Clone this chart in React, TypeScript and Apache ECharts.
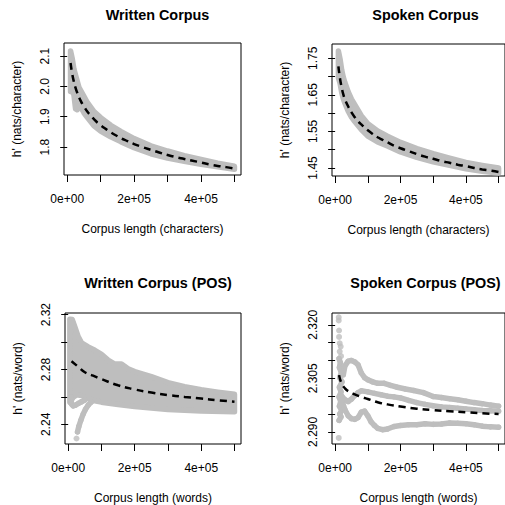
import React, { useEffect, useRef } from "react";
import * as echarts from "echarts";

// ---------- shared axis data ----------
const xTicks = [0, 100000, 200000, 300000, 400000, 500000];
const xLabelValues = [0, 200000, 400000];
const xLabelTexts = ["0e+00", "2e+05", "4e+05"];

const titles = ["Written Corpus", "Spoken Corpus", "Written Corpus (POS)", "Spoken Corpus (POS)"];
const xNames = ["Corpus length (characters)", "Corpus length (characters)", "Corpus length (words)", "Corpus length (words)"];
const yNames = ["h' (nats/character)", "h' (nats/character)", "h' (nats/word)", "h' (nats/word)"];

const yTicks1 = [1.8, 1.9, 2.0, 2.1];
const yLabels1 = [1.8, 1.9, 2.0, 2.1];
const yTicks2 = [1.45, 1.5, 1.55, 1.6, 1.65, 1.7, 1.75];
const yLabels2 = [1.45, 1.55, 1.65, 1.75];
const yTicks3 = [2.24, 2.26, 2.28, 2.3, 2.32];
const yLabels3 = [2.24, 2.28, 2.32];
const yTicks4 = [2.29, 2.295, 2.3, 2.305, 2.31, 2.315, 2.32];
const yLabels4 = [2.29, 2.305, 2.32];

// ---------- panel 1: written corpus (characters) ----------
const band1X = [10000, 15000, 20000, 25000, 30000, 35000, 40000, 50000, 60000, 80000, 100000, 130000, 160000, 200000, 250000, 300000, 350000, 400000, 450000, 500000];
const band1Upper = [2.117, 2.092, 2.057, 2.037, 2.017, 1.997, 1.987, 1.967, 1.947, 1.917, 1.897, 1.872, 1.852, 1.828, 1.804, 1.787, 1.772, 1.759, 1.747, 1.737];
const band1Lower = [1.983, 1.983, 1.973, 1.926, 1.923, 1.943, 1.933, 1.913, 1.898, 1.870, 1.853, 1.834, 1.818, 1.798, 1.778, 1.764, 1.753, 1.743, 1.735, 1.727];
const fit1X = [10000, 15000, 20000, 25000, 30000, 40000, 50000, 60000, 70000, 80000, 90000, 100000, 115000, 130000, 145000, 160000, 180000, 200000, 225000, 250000, 275000, 300000, 325000, 350000, 375000, 400000, 425000, 450000, 475000, 500000];
const fit1Y = [2.077, 2.041, 2.015, 1.995, 1.979, 1.953, 1.934, 1.917, 1.904, 1.892, 1.881, 1.872, 1.860, 1.849, 1.839, 1.830, 1.820, 1.810, 1.800, 1.791, 1.782, 1.774, 1.767, 1.761, 1.755, 1.749, 1.743, 1.738, 1.734, 1.729];

// ---------- panel 2: spoken corpus (characters) ----------
const band2X = [10000, 15000, 20000, 25000, 30000, 40000, 50000, 60000, 80000, 100000, 130000, 160000, 200000, 250000, 300000, 350000, 400000, 450000, 500000];
const band2Upper = [1.770, 1.748, 1.718, 1.698, 1.683, 1.658, 1.638, 1.623, 1.593, 1.571, 1.551, 1.537, 1.520, 1.503, 1.489, 1.477, 1.465, 1.457, 1.450];
const band2Lower = [1.697, 1.682, 1.657, 1.639, 1.627, 1.605, 1.589, 1.577, 1.555, 1.537, 1.521, 1.510, 1.494, 1.479, 1.467, 1.457, 1.448, 1.441, 1.436];
const fit2X = [10000, 15000, 20000, 25000, 30000, 40000, 50000, 60000, 70000, 80000, 90000, 100000, 115000, 130000, 145000, 160000, 180000, 200000, 225000, 250000, 275000, 300000, 325000, 350000, 375000, 400000, 425000, 450000, 475000, 500000];
const fit2Y = [1.728, 1.694, 1.670, 1.651, 1.638, 1.618, 1.602, 1.589, 1.578, 1.569, 1.561, 1.553, 1.543, 1.534, 1.527, 1.520, 1.511, 1.504, 1.496, 1.488, 1.481, 1.475, 1.469, 1.464, 1.459, 1.455, 1.450, 1.446, 1.443, 1.439];

// ---------- panel 3: written corpus (POS) ----------
const band3UpperX = [5000, 12000, 20000, 30000, 40000, 60000, 80000, 100000, 120000, 140000, 160000, 180000, 200000, 250000, 300000, 350000, 400000, 450000, 500000];
const band3Upper = [2.3167, 2.3165, 2.3110, 2.3040, 2.2995, 2.2965, 2.2940, 2.2910, 2.2868, 2.2840, 2.2840, 2.2805, 2.2785, 2.2748, 2.2705, 2.2675, 2.2652, 2.2635, 2.2620];
const band3LowerX = [5000, 15000, 25000, 40000, 60000, 80000, 100000, 150000, 200000, 300000, 400000, 500000];
const band3Lower = [2.2560, 2.2598, 2.2615, 2.2610, 2.2590, 2.2572, 2.2562, 2.2545, 2.2530, 2.2508, 2.2497, 2.2492];
const loop3 = [[8000, 2.2600], [10000, 2.2548], [15000, 2.2535], [22000, 2.2540], [30000, 2.2552], [40000, 2.2565], [50000, 2.2578]];
const spike3 = [[28000, 2.2345], [32000, 2.2385], [38000, 2.2430], [45000, 2.2475], [52000, 2.2510], [60000, 2.2540], [70000, 2.2565]];
const lone3 = [[25000, 2.2297]];
const fit3X = [10000, 30000, 50000, 75000, 100000, 150000, 200000, 250000, 300000, 350000, 400000, 450000, 500000];
const fit3Y = [2.2860, 2.2820, 2.2780, 2.2755, 2.2730, 2.2685, 2.2655, 2.2632, 2.2614, 2.2600, 2.2588, 2.2576, 2.2565];

// ---------- panel 4: spoken corpus (POS) ----------
const early4 = [[11000, 2.3221], [11000, 2.3212], [12000, 2.3184], [12000, 2.3166], [14000, 2.3148], [17000, 2.3139], [14000, 2.3125], [18000, 2.3112], [11000, 2.2883]];
const column4 = [[12000, 2.3105], [16000, 2.3094], [13000, 2.3080], [19000, 2.3066], [14000, 2.3052], [21000, 2.3040], [13000, 2.3025], [18000, 2.3012], [12000, 2.2998], [17000, 2.2985], [13000, 2.2972], [20000, 2.2960], [14000, 2.2950], [18000, 2.2942], [12000, 2.2932]];
const traceA4 = [[25000, 2.3060], [30000, 2.3085], [40000, 2.3098], [50000, 2.3100], [60000, 2.3096], [70000, 2.3088], [80000, 2.3065], [90000, 2.3052], [100000, 2.3046], [115000, 2.3040], [130000, 2.3036], [150000, 2.3036], [170000, 2.3030], [190000, 2.3025], [215000, 2.3020], [240000, 2.3016], [270000, 2.3010], [300000, 2.2999], [325000, 2.2996], [350000, 2.2993], [375000, 2.2990], [400000, 2.2986], [425000, 2.2982], [450000, 2.2979], [475000, 2.2975], [500000, 2.2972]];
const traceB4 = [[20000, 2.3000], [30000, 2.2990], [40000, 2.2985], [50000, 2.2992], [60000, 2.3002], [70000, 2.3010], [80000, 2.3015], [100000, 2.3012], [120000, 2.3008], [140000, 2.3004], [160000, 2.3000], [180000, 2.2998], [200000, 2.2995], [225000, 2.2988], [250000, 2.2982], [275000, 2.2977], [300000, 2.2973], [325000, 2.2970], [350000, 2.2968], [375000, 2.2966], [400000, 2.2964], [425000, 2.2962], [450000, 2.2960], [475000, 2.2959], [500000, 2.2958]];
const traceC4 = [[20000, 2.2990], [30000, 2.2962], [40000, 2.2945], [50000, 2.2937], [60000, 2.2935], [70000, 2.2940], [80000, 2.2955], [90000, 2.2958], [100000, 2.2945], [110000, 2.2928], [120000, 2.2918], [130000, 2.2910], [145000, 2.2906], [160000, 2.2908], [180000, 2.2915], [200000, 2.2918], [225000, 2.2920], [250000, 2.2920], [275000, 2.2923], [300000, 2.2921], [325000, 2.2922], [350000, 2.2925], [375000, 2.2924], [400000, 2.2923], [425000, 2.2920], [450000, 2.2916], [475000, 2.2914], [500000, 2.2913]];
const fit4X = [12000, 20000, 30000, 40000, 60000, 80000, 100000, 130000, 160000, 200000, 250000, 300000, 350000, 400000, 450000, 500000];
const fit4Y = [2.3059, 2.3035, 2.3022, 2.3014, 2.3005, 2.2998, 2.2992, 2.2983, 2.2977, 2.2971, 2.2965, 2.2961, 2.2958, 2.2955, 2.2952, 2.2950];

const GREY = "#BEBEBE";
const FONT = "Liberation Sans";

const zip = (xs: number[], ys: number[]) => xs.map((x, i) => [x, ys[i]]);

function bandSeries(idx: number, ux: number[], uy: number[], lx: number[], ly: number[]) {
  return {
    type: "custom",
    xAxisIndex: idx,
    yAxisIndex: idx,
    silent: true,
    z: 1,
    data: zip(ux, uy),
    encode: { x: 0, y: 1 },
    renderItem: (params: any, api: any) => {
      if (params.dataIndex !== 0) return { type: "group", children: [] };
      const pts: number[][] = [];
      for (let i = 0; i < ux.length; i++) pts.push(api.coord([ux[i], uy[i]]));
      for (let i = lx.length - 1; i >= 0; i--) pts.push(api.coord([lx[i], ly[i]]));
      return {
        type: "polygon",
        shape: { points: pts },
        style: { fill: GREY, stroke: GREY, lineWidth: 5.5, lineJoin: "round" },
      };
    },
  };
}

function traceSeries(idx: number, data: number[][]) {
  return {
    type: "line",
    xAxisIndex: idx,
    yAxisIndex: idx,
    data,
    silent: true,
    z: 2,
    symbol: "circle",
    symbolSize: 5.5,
    showSymbol: true,
    lineStyle: { color: GREY, width: 5.5, cap: "round", join: "round" },
    itemStyle: { color: GREY },
  };
}

function pointSeries(idx: number, data: number[][]) {
  return {
    type: "scatter",
    xAxisIndex: idx,
    yAxisIndex: idx,
    data,
    silent: true,
    z: 2,
    symbol: "circle",
    symbolSize: 6,
    itemStyle: { color: GREY },
  };
}

function fitSeries(idx: number, xs: number[], ys: number[]) {
  return {
    type: "line",
    xAxisIndex: idx,
    yAxisIndex: idx,
    data: zip(xs, ys),
    silent: true,
    z: 5,
    smooth: true,
    symbol: "none",
    lineStyle: { color: "#000", width: 2.5, type: [7, 5] },
  };
}

const grids = [
  { left: 64, top: 43, width: 177, height: 132 },
  { left: 332, top: 44, width: 177, height: 132 },
  { left: 65, top: 313, width: 176, height: 131 },
  { left: 332, top: 313, width: 177, height: 131 },
];
const yRanges = [
  [1.708, 2.143],
  [1.428, 1.789],
  [2.2257, 2.3212],
  [2.2866, 2.3233],
];
const yTickSets = [yTicks1, yTicks2, yTicks3, yTicks4];
const yLabelSets = [yLabels1, yLabels2, yLabels3, yLabels4];
const yDecimals = [1, 2, 2, 3];
const titleCenters = [[152.5, 3], [420.5, 3], [153, 271], [420.5, 271]];

export default function App() {
  const ref = useRef<HTMLDivElement>(null);
  useEffect(() => {
    if (!ref.current) return;
    const chart = echarts.init(ref.current, undefined, { renderer: "svg" });
    const textBase = { fontFamily: FONT, color: "#000", fontSize: 12 };
    const option: any = {
      animation: false,
      backgroundColor: "#fff",
      title: titles.map((t, i) => ({
        text: t,
        left: titleCenters[i][0],
        top: titleCenters[i][1],
        textAlign: "center",
        textStyle: { fontFamily: FONT, fontWeight: "bold", fontSize: 14.4, color: "#000" },
      })),
      grid: grids.map((g) => ({ ...g, show: true, borderColor: "#000", borderWidth: 1, backgroundColor: "transparent" })),
      xAxis: grids.map((_, i) => ({
        type: "value",
        gridIndex: i,
        min: -9600,
        max: 519600,
        splitLine: { show: false },
        axisLine: { show: false },
        axisTick: { show: true, length: 7, customValues: xTicks, lineStyle: { color: "#000", width: 1 } },
        axisLabel: {
          ...textBase,
          margin: 18,
          customValues: xLabelValues,
          formatter: (v: number) => {
            const k = xLabelValues.indexOf(v);
            return k >= 0 ? xLabelTexts[k] : "";
          },
        },
        name: xNames[i],
        nameLocation: "middle",
        nameGap: 48,
        nameTextStyle: textBase,
      })),
      yAxis: grids.map((_, i) => ({
        type: "value",
        gridIndex: i,
        min: yRanges[i][0],
        max: yRanges[i][1],
        splitLine: { show: false },
        axisLine: { show: false },
        axisTick: { show: true, length: 7, customValues: yTickSets[i], lineStyle: { color: "#000", width: 1 } },
        axisLabel: {
          ...textBase,
          rotate: 90,
          margin: 13,
          customValues: yLabelSets[i],
          formatter: (v: number) => v.toFixed(yDecimals[i]),
        },
        name: yNames[i],
        nameLocation: "middle",
        nameGap: 41,
        nameTextStyle: textBase,
      })),
      series: [
        bandSeries(0, band1X, band1Upper, band1X, band1Lower),
        fitSeries(0, fit1X, fit1Y),
        bandSeries(1, band2X, band2Upper, band2X, band2Lower),
        fitSeries(1, fit2X, fit2Y),
        bandSeries(2, band3UpperX, band3Upper, band3LowerX, band3Lower),
        traceSeries(2, loop3),
        traceSeries(2, spike3),
        pointSeries(2, lone3),
        fitSeries(2, fit3X, fit3Y),
        pointSeries(3, early4),
        traceSeries(3, column4),
        traceSeries(3, traceA4),
        traceSeries(3, traceB4),
        traceSeries(3, traceC4),
        fitSeries(3, fit4X, fit4Y),
      ],
    };
    chart.setOption(option);
    return () => chart.dispose();
  }, []);
  return (
    <div
      ref={ref}
      style={{ position: "absolute", left: 0, top: 0, width: 505, height: 505, background: "#fff" }}
    />
  );
}
